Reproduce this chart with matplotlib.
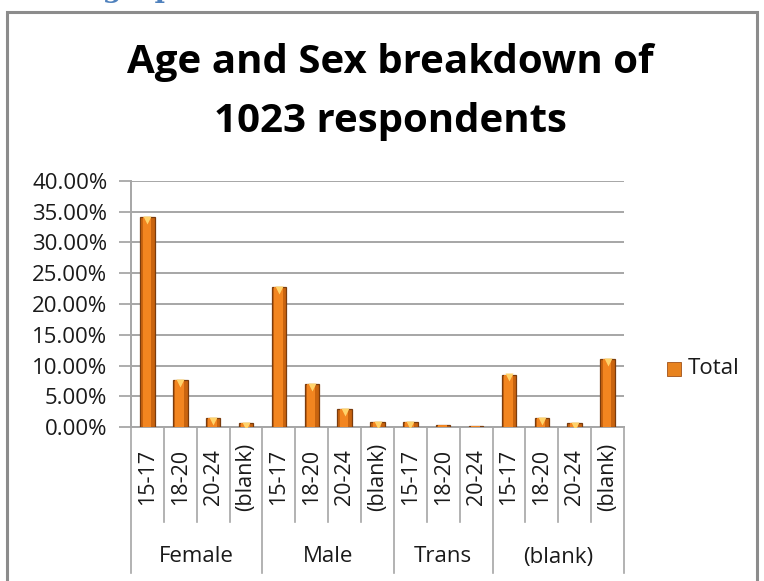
import numpy as np
import matplotlib.pyplot as plt
import matplotlib.patches as mpatches
import matplotlib.lines as mlines

# data
groups = ['Female', 'Male', 'Trans', '(blank)']
ages = [['15-17', '18-20', '20-24', '(blank)'],
        ['15-17', '18-20', '20-24', '(blank)'],
        ['15-17', '18-20', '20-24'],
        ['15-17', '18-20', '20-24', '(blank)']]
values = [[34.1, 7.6, 1.4, 0.6],
          [22.7, 7.0, 2.9, 0.8],
          [0.8, 0.4, 0.2],
          [8.5, 1.4, 0.6, 11.0]]
yticks = [0, 5, 10, 15, 20, 25, 30, 35, 40]
series_name = 'Total'

plt.rcParams['font.family'] = ['Open Sans', 'DejaVu Sans']

fig = plt.figure(figsize=(7.64, 5.81), dpi=100)
W, H = 764.0, 581.0

def fx(px):
    return px / W

def fy(py):
    return 1 - py / H

# outer frame of the chart area
frame = mpatches.Rectangle((fx(7), fy(600)), fx(757) - fx(7), fy(12) - fy(600),
                           transform=fig.transFigure, fill=False,
                           edgecolor='#8c8c8c', lw=2.2, clip_on=False)
fig.patches.append(frame)

# clipped heading of the page above the chart (only descenders show)
fig.text(fx(14), fy(-3), 'Demographics', color='#4f81bd', fontsize=20,
         fontweight='bold', family='DejaVu Serif', va='baseline', ha='left')

fig.text(fx(390), fy(62), 'Age and Sex breakdown of', ha='center', va='center',
         fontsize=29, fontweight='bold')
fig.text(fx(390), fy(121), '1023 respondents', ha='center', va='center',
         fontsize=29, fontweight='bold')

ax = fig.add_axes([fx(131), fy(427), fx(624) - fx(131), fy(181) - fy(427)])

flat_vals = [v for g in values for v in g]
flat_ages = [a for g in ages for a in g]
x = np.arange(len(flat_vals))

ax.bar(x, flat_vals, width=0.44, color='#c9640f', edgecolor='#7a3c0e', lw=0.9, zorder=3)
ax.bar(x - 0.02, flat_vals, width=0.26, color='#f28520', lw=0, zorder=4)
tall = [v if v > 0.5 else np.nan for v in flat_vals]
ax.plot(x, np.array(tall) - 0.45, 'v', color='#ffd36b', ms=6, mec='none', zorder=5)

ax.set_xlim(-0.5, len(flat_vals) - 0.5)
ax.set_ylim(0, 40)
ax.set_yticks(yticks)
ax.set_yticklabels(['%.2f%%' % t for t in yticks], fontsize=16, color='#1a1a1a')
ax.tick_params(axis='y', length=9, width=1.2, color='#a0a0a0', pad=8)
ax.set_xticks([])
ax.yaxis.grid(True, color='#a6a6a6', lw=1.4, zorder=0)
ax.set_axisbelow(True)
for s in ['top', 'right']:
    ax.spines[s].set_visible(False)
for s in ['left', 'bottom']:
    ax.spines[s].set_color('#a6a6a6')
    ax.spines[s].set_linewidth(1.4)

# category axis: age labels, dividers and group labels
trans = ax.get_xaxis_transform()
ppx = 1.0 / (427 - 181)  # axes fraction per pixel
for xi, lab in zip(x, flat_ages):
    ax.text(xi, -50 * ppx, lab, rotation=90, ha='center', va='center',
            fontsize=15.5, color='#1a1a1a', transform=trans, clip_on=False)
start = 0
bounds = [-0.5]
for name, group_ages in zip(groups, ages):
    end = start + len(group_ages)
    bounds.append(end - 0.5)
    ax.text((start + end - 1) / 2.0, -130 * ppx, name, ha='center', va='center',
            fontsize=16, color='#1a1a1a', transform=trans, clip_on=False)
    start = end
for xi in np.arange(len(flat_vals) + 1) - 0.5:
    bottom = -146 * ppx if xi in bounds else -95 * ppx
    ax.add_line(mlines.Line2D([xi, xi], [0, bottom], transform=trans, color='#a6a6a6',
                              lw=1.2, clip_on=False))

# legend
fig.patches.append(mpatches.Rectangle((fx(667), fy(376)), fx(14), 14 / H,
                                      transform=fig.transFigure, facecolor='#e8831f',
                                      edgecolor='#a0521a', lw=0.6))
fig.text(fx(688), fy(368), series_name, fontsize=16, va='center', ha='left', color='#1a1a1a')

fig.savefig('out.png', dpi=100)
